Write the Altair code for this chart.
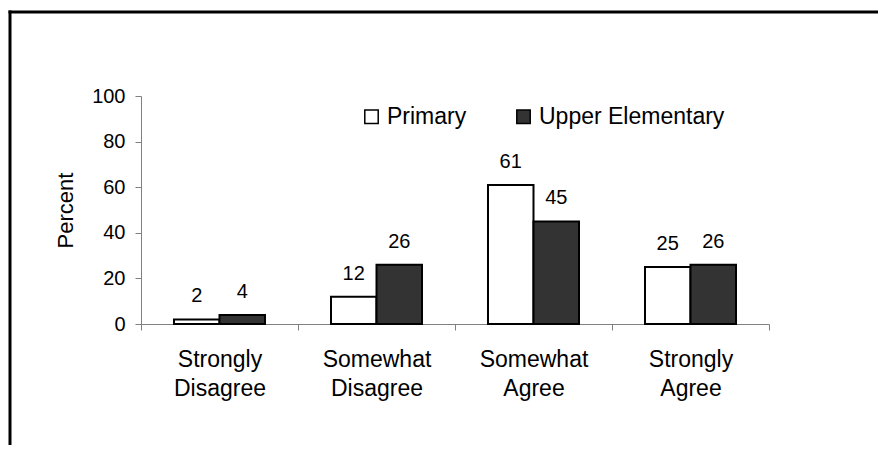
import altair as alt
import pandas as pd

categories = ["Strongly Disagree", "Somewhat Disagree", "Somewhat Agree", "Strongly Agree"]
series_names = ["Primary", "Upper Elementary"]
primary_values = [2, 12, 61, 25]
upper_values = [4, 26, 45, 26]
y_ticks = [0, 20, 40, 60, 80, 100]
bar_colors = ["#ffffff", "#333333"]

rows = []
for c, p, u in zip(categories, primary_values, upper_values):
    rows.append({"category": c, "series": series_names[0], "value": p})
    rows.append({"category": c, "series": series_names[1], "value": u})
df = pd.DataFrame(rows)

FONT = "Liberation Sans"
AXIS_GRAY = "#808080"

x_enc = alt.X(
    "category:N", sort=categories, title=None,
    scale=alt.Scale(paddingInner=0, paddingOuter=0),
    axis=alt.Axis(tickBand="extent", labelAngle=0,
                  labelExpr="split(datum.label, ' ')",
                  labelFontSize=23, labelLineHeight=29, labelPadding=18,
                  tickSize=6, labelColor="black", labelFont=FONT,
                  domainColor=AXIS_GRAY, tickColor=AXIS_GRAY),
)
xo_enc = alt.XOffset("series:N", sort=series_names,
                     scale=alt.Scale(domain=series_names, paddingInner=0, paddingOuter=0.725))
y_enc = alt.Y(
    "value:Q", scale=alt.Scale(domain=[0, 100]),
    axis=alt.Axis(values=y_ticks, grid=False, title="Percent",
                  labelFontSize=20, labelFont=FONT, labelColor="black",
                  tickSize=6, labelPadding=10,
                  titleFontSize=22, titleFont=FONT, titleFontWeight="normal",
                  titleColor="black", titlePadding=14,
                  domainColor=AXIS_GRAY, tickColor=AXIS_GRAY),
)
fill_enc = alt.Fill(
    "series:N", sort=series_names,
    scale=alt.Scale(domain=series_names, range=bar_colors),
    legend=alt.Legend(title=None, orient="none", legendX=219, legendY=9,
                      direction="horizontal", symbolType="square",
                      symbolSize=180, symbolStrokeColor="black",
                      symbolStrokeWidth=1.5, labelFontSize=23, labelFont=FONT,
                      labelColor="black", labelOffset=4, columnPadding=45,
                      labelLimit=400),
)

bars = alt.Chart(df).mark_bar(stroke="black", strokeWidth=2).encode(
    x=x_enc, xOffset=xo_enc, y=y_enc, fill=fill_enc
)
labels = alt.Chart(df).mark_text(
    baseline="alphabetic", dy=-17, fontSize=20, font=FONT, color="black"
).encode(x=x_enc, xOffset=xo_enc, y=y_enc, text="value:Q")

frame_data = alt.Data(values=[{"k": 0}])
top_rule = alt.Chart(frame_data).mark_rule(color="black", strokeWidth=3).encode(
    x=alt.value(-132.5), x2=alt.value(740), y=alt.value(-84)
)
left_rule = alt.Chart(frame_data).mark_rule(color="black", strokeWidth=3).encode(
    x=alt.value(-131), y=alt.value(-85.5), y2=alt.value(360)
)

chart = alt.layer(bars, labels, top_rule, left_rule).properties(
    width=628, height=228,
    autosize=alt.AutoSizeParams(type="none"),
    padding={"left": 133, "top": 88, "right": 109, "bottom": 121},
).configure_view(stroke=None)

chart.save("out.html", embed_options={"renderer": "svg", "actions": False})
